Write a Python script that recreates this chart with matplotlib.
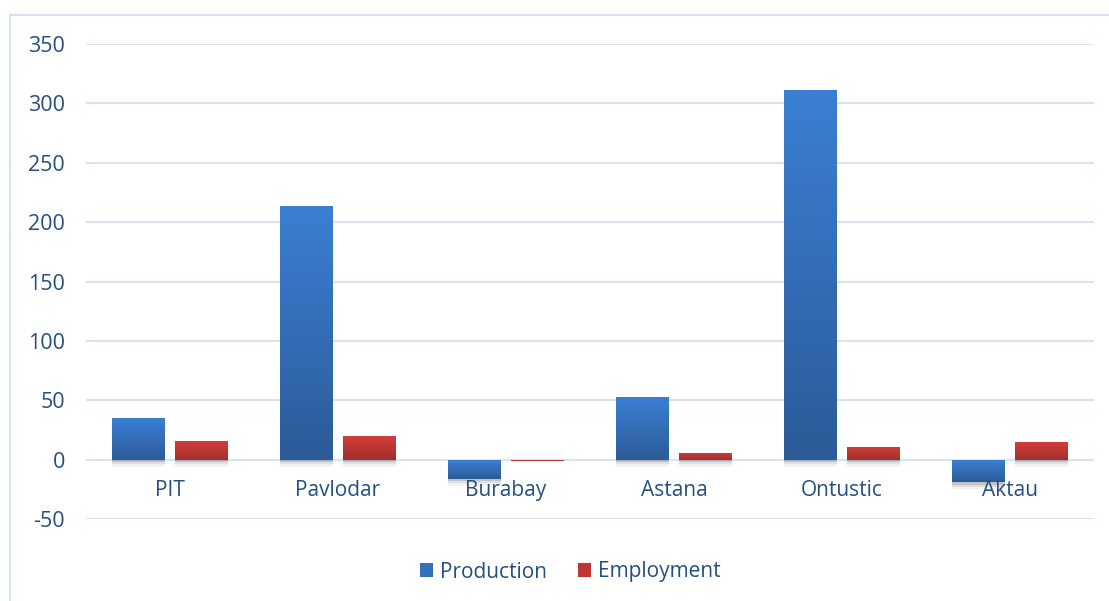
import numpy as np
import matplotlib
matplotlib.use("Agg")
import matplotlib.pyplot as plt
from matplotlib import patheffects as pe
from matplotlib.lines import Line2D
from matplotlib.patches import Patch

categories = ["PIT", "Pavlodar", "Burabay", "Astana", "Ontustic", "Aktau"]
production = [35, 214, -16, 53, 311, -19]
employment = [16, 20, -0.8, 6, 11, 15]
yticks = [-50, 0, 50, 100, 150, 200, 250, 300, 350]

plt.rcParams['font.family'] = ['Open Sans', 'DejaVu Sans']
TXT = '#264E82'
GRID = '#D9E4F3'

fig = plt.figure(figsize=(11.09, 6.01), dpi=100)
ax = fig.add_axes([86/1109, (601-519)/601, (1094-86)/1109, (519-44)/601])

x = np.arange(len(categories))
w = 0.315
off = 0.19

def grad_bars(xpos, vals, top_col, bot_col):
    bars = ax.bar(xpos, vals, width=w, color=bot_col, zorder=3, linewidth=0)
    t = np.array(matplotlib.colors.to_rgb(top_col))
    b = np.array(matplotlib.colors.to_rgb(bot_col))
    grad = np.linspace(0, 1, 64)[:, None, None]
    img = b + (t - b) * grad
    for bar, v in zip(bars, vals):
        if abs(v) > 2:
            shadow = [pe.SimplePatchShadow(offset=(0, -2), shadow_rgbFace='#000000', alpha=0.12),
                      pe.SimplePatchShadow(offset=(0, -3.5), shadow_rgbFace='#000000', alpha=0.08),
                      pe.SimplePatchShadow(offset=(0, -5), shadow_rgbFace='#000000', alpha=0.05),
                      pe.Normal()]
            bar.set_path_effects(shadow)
        x0 = bar.get_x(); x1 = x0 + bar.get_width()
        y0 = bar.get_y(); y1 = y0 + bar.get_height()
        lo, hi = min(y0, y1), max(y0, y1)
        im = ax.imshow(img, extent=[x0, x1, lo, hi], origin='lower',
                       aspect='auto', zorder=4, interpolation='bilinear')
        im.set_clip_path(bar)
    return bars

grad_bars(x - off, production, '#3B7FD3', '#2C5B98')
grad_bars(x + off, employment, '#D33D3A', '#A22F2D')

ax.set_xlim(-0.5, len(categories) - 0.5)
ax.set_ylim(-50, 350)
ax.set_yticks(yticks)
ax.set_yticklabels([str(v) for v in yticks], fontsize=15.5, color=TXT)
ax.tick_params(axis='y', length=0, pad=15)
ax.set_xticks([])
ax.grid(axis='y', color=GRID, linewidth=1.5, zorder=0)
ax.set_axisbelow(True)
for s in ax.spines.values():
    s.set_visible(False)

for i, c in enumerate(categories):
    ax.text(i, -26, c, ha='center', va='center', fontsize=15, color=TXT, zorder=5)

# chart border (left/top)
fig.add_artist(Line2D([10/1109, 10/1109], [0, 1 - 15/601], transform=fig.transFigure,
                      color='#D6E3F5', linewidth=1.5))
fig.add_artist(Line2D([10/1109, 1], [1 - 15/601, 1 - 15/601], transform=fig.transFigure,
                      color='#D6E3F5', linewidth=1.5))

handles = [Patch(facecolor='#3470BC', label='Production'),
           Patch(facecolor='#BE3633', label='Employment')]
fig.legend(handles=handles, loc='center', bbox_to_anchor=(570/1109, 1 - 572/601),
           ncol=2, frameon=False, fontsize=15, handlelength=0.65, handleheight=0.65,
           handletextpad=0.3, columnspacing=1.5, labelcolor=TXT)

fig.savefig('out.png', dpi=100)
